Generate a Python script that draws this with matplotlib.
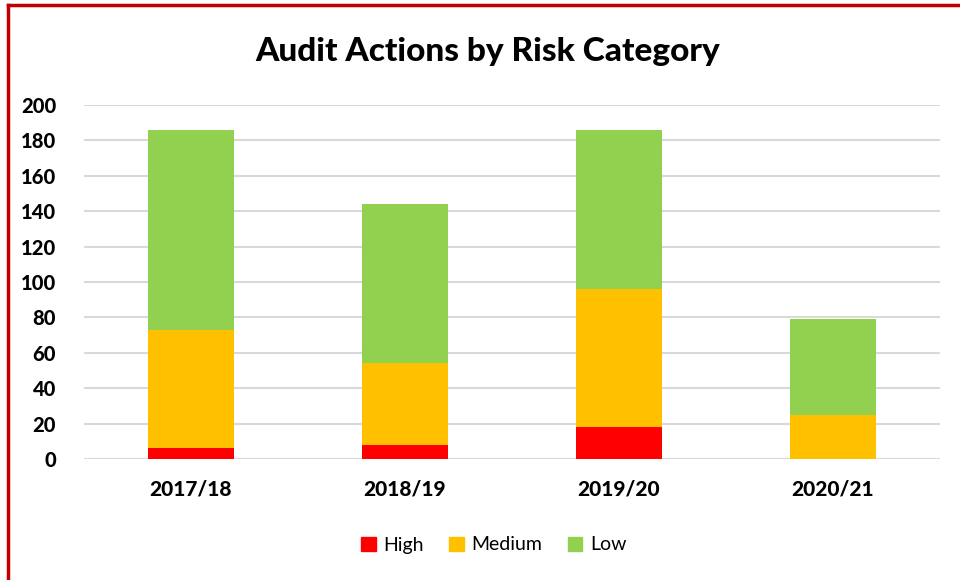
import matplotlib

matplotlib.use("Agg")
import matplotlib.pyplot as plt
import numpy as np
from matplotlib.lines import Line2D

years = ["2017/18", "2018/19", "2019/20", "2020/21"]
high = [6, 8, 18, 0]
medium = [67, 46, 78, 25]
low = [113, 90, 90, 54]

colors = {"High": "#FF0000", "Medium": "#FFC000", "Low": "#92D050"}
yticks = list(range(0, 201, 20))

plt.rcParams["font.family"] = ["Lato", "DejaVu Sans"]

fig = plt.figure(figsize=(9.6, 5.8), dpi=100)
ax = fig.add_axes([84 / 960, 1 - 459 / 580, 856 / 960, 354 / 580])

x = np.arange(len(years))
bottom = np.zeros(len(years))
for name, vals in (("High", high), ("Medium", medium), ("Low", low)):
    ax.bar(x, vals, width=0.40, bottom=bottom, color=colors[name], label=name, zorder=3)
    bottom += np.array(vals)

ax.set_xlim(-0.5, 3.5)
ax.set_ylim(0, 200)
ax.set_yticks(yticks)
ax.set_xticks(x)
ax.set_xticklabels(years, fontweight="black", fontsize=15)
for lbl in ax.get_yticklabels():
    lbl.set_fontweight("black")
    lbl.set_fontsize(14.5)
ax.grid(axis="y", color="#D9D9D9", linewidth=1.5, zorder=0)
ax.tick_params(length=0)
ax.tick_params(axis="y", pad=20)
ax.tick_params(axis="x", pad=15)
for s in ax.spines.values():
    s.set_visible(False)
ax.axhline(0, color="#D9D9D9", linewidth=1.5, zorder=2)

fig.text(488 / 960, 1 - 52 / 580, "Audit Actions by Risk Category", ha="center", va="center",
         fontsize=24, fontweight="black")

handles = [plt.Rectangle((0, 0), 1, 1, color=colors[k]) for k in ("High", "Medium", "Low")]
fig.legend(handles, ["High", "Medium", "Low"], loc="center", bbox_to_anchor=(494 / 960, 1 - 545 / 580),
           ncol=3, frameon=False, fontsize=14, handlelength=0.75, handleheight=0.75,
           handletextpad=0.4, columnspacing=1.3)

# red frame (only top and left visible in the crop)
fig.add_artist(Line2D([8 / 960, 1], [1 - 5 / 580, 1 - 5 / 580], color="#C00000", linewidth=2.5,
                      transform=fig.transFigure))
fig.add_artist(Line2D([8 / 960, 8 / 960], [0, 1 - 5 / 580], color="#C00000", linewidth=2.5,
                      transform=fig.transFigure))

fig.savefig("out.png", dpi=100)
